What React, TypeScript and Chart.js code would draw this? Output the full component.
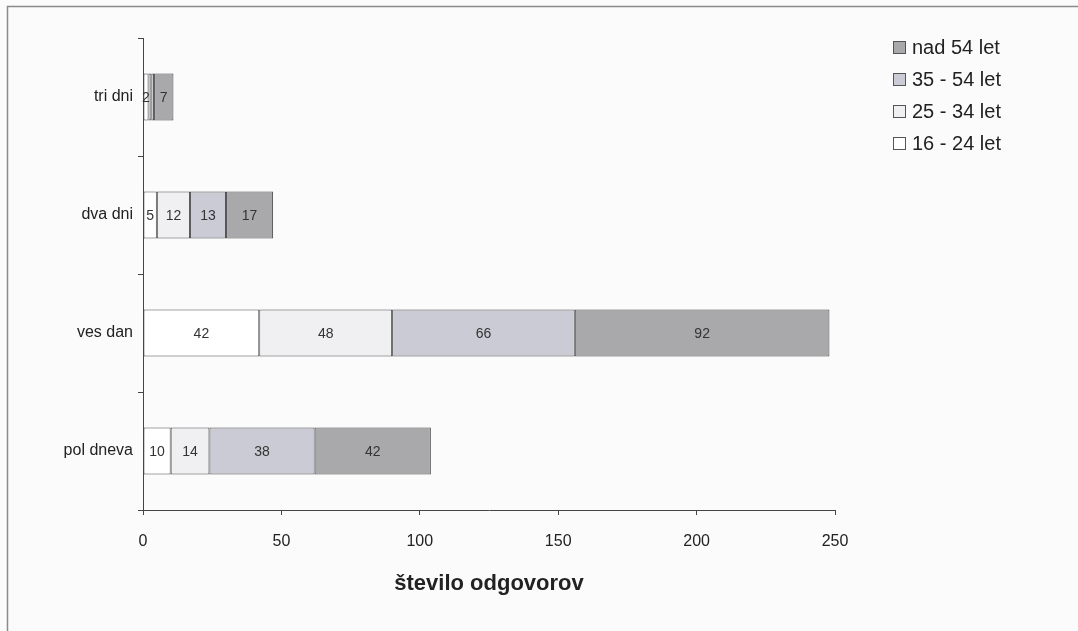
import React, { useEffect, useRef } from "react";
import { Chart, registerables } from "chart.js";

Chart.register(...registerables);

const categories = ["tri dni", "dva dni", "ves dan", "pol dneva"];
const seriesNames = ["16 - 24 let", "25 - 34 let", "35 - 54 let", "nad 54 let"];
const age16to24 = [2, 5, 42, 10];
const age25to34 = [1, 12, 48, 14];
const age35to54 = [1, 13, 66, 38];
const ageOver54 = [7, 17, 92, 42];
const xTicks = [0, 50, 100, 150, 200, 250];
const seriesColors = ["#ffffff", "#f0f0f2", "#cbcbd6", "#a9a9ab"];

const FONT = "'Liberation Sans', Arial, sans-serif";

const frameAndLabels = {
  id: "frameAndLabels",
  beforeDraw(chart: any) {
    const { ctx, width, height } = chart;
    ctx.save();
    ctx.fillStyle = "#fbfbfb";
    ctx.fillRect(0, 0, width, height);
    ctx.strokeStyle = "#8a8a8a";
    ctx.lineWidth = 1.5;
    ctx.beginPath();
    ctx.moveTo(7.5, height);
    ctx.lineTo(7.5, 6.5);
    ctx.lineTo(width, 6.5);
    ctx.stroke();
    ctx.restore();
  },
  afterDatasetsDraw(chart: any) {
    const { ctx } = chart;
    ctx.save();
    ctx.font = `14px ${FONT}`;
    ctx.fillStyle = "#333";
    ctx.textAlign = "center";
    ctx.textBaseline = "middle";
    chart.data.datasets.forEach((ds: any, di: number) => {
      const meta = chart.getDatasetMeta(di);
      meta.data.forEach((bar: any, i: number) => {
        const v = ds.data[i];
        if (v < 2) return;
        const x = (bar.x + bar.base) / 2;
        ctx.fillText(String(v), x, bar.y + 1);
      });
    });
    // legend (reversed order)
    const lx = 893;
    let ly = 47;
    ctx.font = `20px ${FONT}`;
    ctx.textAlign = "left";
    for (let di = chart.data.datasets.length - 1; di >= 0; di--) {
      const ds = chart.data.datasets[di];
      ctx.fillStyle = ds.backgroundColor;
      ctx.fillRect(lx, ly - 6, 12, 12);
      ctx.strokeStyle = "#555";
      ctx.lineWidth = 1;
      ctx.strokeRect(lx + 0.5, ly - 5.5, 12, 12);
      ctx.fillStyle = "#222";
      ctx.fillText(ds.label, lx + 19, ly + 1);
      ly += 32;
    }
    ctx.restore();
  },
};

export default function App() {
  const ref = useRef<HTMLCanvasElement>(null);
  useEffect(() => {
    if (!ref.current) return;
    const values = [age16to24, age25to34, age35to54, ageOver54];
    const chart = new Chart(ref.current, {
      type: "bar",
      data: {
        labels: categories,
        datasets: values.map((d, i) => ({
          label: seriesNames[i],
          data: d,
          backgroundColor: seriesColors[i],
          borderColor: "#4a4a4a",
          borderWidth: 1,
          borderSkipped: false,
          barPercentage: 0.4,
          categoryPercentage: 1,
        })),
      },
      options: {
        indexAxis: "y",
        animation: false,
        responsive: false,
        events: [],
        layout: { padding: { top: 38, right: 243, bottom: 30, left: 0 } },
        plugins: { legend: { display: false }, tooltip: { enabled: false } },
        scales: {
          x: {
            stacked: true,
            min: 0,
            max: 250,
            afterBuildTicks: (s: any) => {
              s.ticks = xTicks.map((v) => ({ value: v }));
            },
            afterFit: (s: any) => {
              s.height = 91;
            },
            border: { display: true, color: "#444", width: 1 },
            grid: { drawOnChartArea: false, drawTicks: true, tickLength: 5, color: "#444" },
            ticks: { padding: 17, font: { family: FONT, size: 16 }, color: "#222" },
            title: {
              display: true,
              text: "število odgovorov",
              font: { family: FONT, size: 22, weight: "bold" },
              color: "#222",
              padding: { top: 9 },
            },
          },
          y: {
            stacked: true,
            afterFit: (s: any) => {
              s.width = 143;
            },
            border: { display: true, color: "#444", width: 1 },
            grid: { drawOnChartArea: false, drawTicks: true, tickLength: 5, color: "#444", offset: true },
            ticks: { padding: 5, font: { family: FONT, size: 16 }, color: "#222" },
          },
        },
      },
      plugins: [frameAndLabels],
    } as any);
    return () => chart.destroy();
  }, []);
  return (
    <div style={{ position: "fixed", left: 0, top: 0, width: 1078, height: 631 }}>
      <canvas ref={ref} width={1078} height={631} style={{ width: 1078, height: 631, display: "block" }} />
    </div>
  );
}
